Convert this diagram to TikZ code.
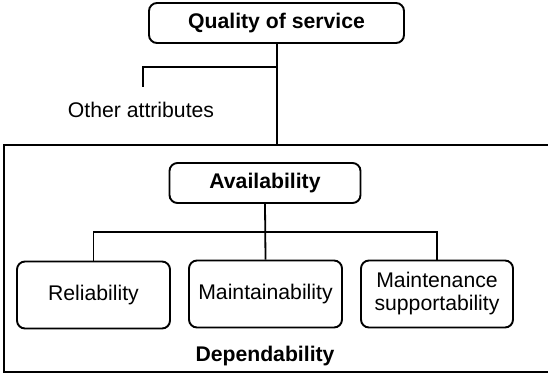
\documentclass[tikz,border=0pt]{standalone}
\usepackage{fontspec}
\setmainfont{Liberation Sans}
\begin{document}
\begin{tikzpicture}[x=1pt,y=-1pt,
  rbox/.style={draw, line width=1.9pt, rounded corners=8pt, inner sep=0pt, align=center, font=\fontsize{21.2}{24}\selectfont},
  conn/.style={line width=1.8pt},
  thin/.style={line width=1.1pt}]
\useasboundingbox (0,0) rectangle (548,376);
\fill[white] (0,0) rectangle (548,376);
% outer dependability box
\draw[line width=2pt] (551,145) -- (3.5,145) -- (3.5,371.5) -- (551,371.5);
\node[rbox, font=\fontsize{21.2}{24}\selectfont\bfseries, minimum width=255pt, minimum height=40pt] (qos) at (276.5,23) {Quality of service};
\node[rbox, font=\fontsize{21.2}{24}\selectfont\bfseries, minimum width=191pt, minimum height=40pt] (avail) at (265,183) {Availability};
\node[rbox, minimum width=153pt, minimum height=67pt] (rel) at (93.5,295) {Reliability};
\node[rbox, minimum width=153pt, minimum height=67pt] (main) at (265.5,294) {Maintainability};
\node[rbox, minimum width=152pt, minimum height=67pt] (sup) at (437,294) {Maintenance\\[-1pt]supportability};
\node[font=\fontsize{21.2}{24}\selectfont] (other) at (141,110) {Other attributes};
\node[font=\fontsize{21.2}{24}\selectfont\bfseries] (dep) at (265,356) {Dependability};
\coordinate (top) at (277,145);
\coordinate (br) at (143,67);
\coordinate (brend) at (143,87);
\draw[conn] (qos.south -| top) -- (top);
\draw[conn] (qos.south -| top) |- (br) -- (brend);
% availability tree
\coordinate (junc) at (265,232);
\draw[conn] (avail.south) -- (main.north);
\draw[thin] (rel.north) |- (junc) -| (sup.north);
\end{tikzpicture}
\end{document}
